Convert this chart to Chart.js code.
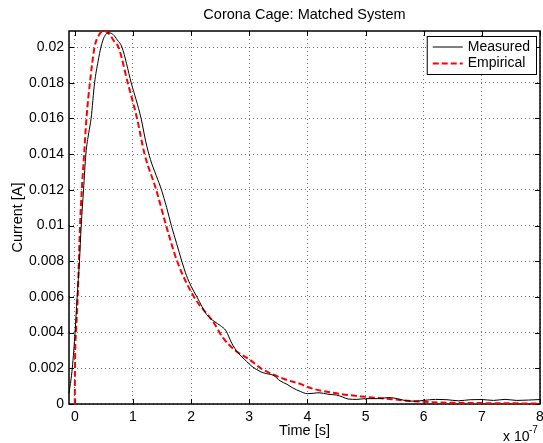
<!DOCTYPE html>
<html>
<head>
<meta charset="utf-8">
<title>Corona Cage: Matched System</title>
<script src="https://cdn.jsdelivr.net/npm/chart.js@4"></script>
<style>
  html, body { margin: 0; padding: 0; background: #fff; }
</style>
</head>
<body>
<canvas id="myChart" width="543" height="443"></canvas>
<script>
// tiempo en unidades de 1e-7 s
let tiempoMedido = [-0.1, -0.05, 0, 0.04, 0.08, 0.11, 0.15, 0.19, 0.24, 0.28, 0.34, 0.4, 0.45, 0.51, 0.59, 0.66, 0.73, 0.81,
    0.97, 1.14, 1.22, 1.3, 1.4, 1.49, 1.58, 1.66, 1.75, 1.84, 1.92, 2.0, 2.1, 2.27, 2.41, 2.5, 2.6, 2.7, 2.8, 2.95, 3.05, 3.2,
    3.3, 3.42, 3.53, 3.65, 3.75, 3.88, 4.0, 4.1, 4.2, 4.35, 4.5, 4.6, 4.7, 4.85, 5.0, 5.2, 5.4, 5.55, 5.7, 5.85, 6.0, 6.2,
    6.4, 6.6, 6.8, 7.0, 7.2, 7.4, 7.6, 7.8, 8.0];
let corrienteMedida = [0.0006, 0.0018, 0.0038, 0.006, 0.008, 0.010, 0.012, 0.014, 0.0152, 0.016, 0.018, 0.0192, 0.020, 0.0206,
    0.0208, 0.0207, 0.0204, 0.020, 0.018, 0.016, 0.0147, 0.0137, 0.0128, 0.012, 0.011, 0.010, 0.009, 0.008, 0.0072, 0.0066, 0.006,
    0.005, 0.0046, 0.0044, 0.0041, 0.0034, 0.0029, 0.0024, 0.0021, 0.0018, 0.0017, 0.0016, 0.0013, 0.0011, 0.0009, 0.0007,
    0.00058, 0.0006, 0.00063, 0.00055, 0.0005, 0.0004, 0.00028, 0.00026, 0.0003, 0.0003, 0.00036, 0.0003, 0.00018, 0.00016,
    0.0002, 0.00026, 0.00024, 0.00018, 0.00024, 0.00025, 0.0002, 0.00026, 0.0002, 0.00022, 0.00025];

let tiempoEmpirico = [0, 0.003, 0.02, 0.05, 0.07, 0.09, 0.12, 0.16, 0.2, 0.26, 0.34, 0.42, 0.51, 0.6, 0.68, 0.75, 0.91, 1.07,
    1.2, 1.4, 1.57, 1.76, 2.05, 2.38, 2.55, 2.76, 3.0, 3.2, 3.6, 3.9, 4.0, 4.5, 5.0, 5.5, 6.0, 7.0, 8.0];
let corrienteEmpirica = [0, 0.002, 0.004, 0.006, 0.008, 0.010, 0.012, 0.014, 0.016, 0.018, 0.020, 0.0207, 0.0209, 0.0207,
    0.0203, 0.020, 0.018, 0.016, 0.014, 0.012, 0.010, 0.008, 0.006, 0.0046, 0.0037, 0.003, 0.0025, 0.002, 0.0014, 0.0011,
    0.00095, 0.0006, 0.0004, 0.00025, 0.00012, 0.00005, 0.00003];

let xTicks = [0, 1, 2, 3, 4, 5, 6, 7, 8];
let yTicks = [0, 0.002, 0.004, 0.006, 0.008, 0.01, 0.012, 0.014, 0.016, 0.018, 0.02];

let titulo = 'Corona Cage: Matched System';
let fuente = '"Liberation Sans", Arial, sans-serif';
Chart.defaults.font.family = fuente;
Chart.defaults.font.size = 14;
Chart.defaults.color = '#000';

function puntos(xs, ys) {
    return xs.map((x, i) => ({ x: x, y: ys[i] }));
}

// caja de ejes, marcas hacia dentro, titulo, leyenda y exponente estilo MATLAB
const marco = {
    id: 'marco',
    beforeDatasetsDraw(chart) {
        let ctx = chart.ctx;
        let a = chart.chartArea;
        let sx = chart.scales.x;
        let sy = chart.scales.y;
        ctx.save();
        ctx.strokeStyle = '#000';
        ctx.lineWidth = 1;
        ctx.beginPath();
        sx.ticks.forEach(t => {
            let px = Math.round(sx.getPixelForValue(t.value)) + 0.5;
            ctx.moveTo(px, a.bottom); ctx.lineTo(px, a.bottom - 5);
            ctx.moveTo(px, a.top); ctx.lineTo(px, a.top + 5);
        });
        sy.ticks.forEach(t => {
            let py = Math.round(sy.getPixelForValue(t.value)) + 0.5;
            ctx.moveTo(a.left, py); ctx.lineTo(a.left + 5, py);
            ctx.moveTo(a.right, py); ctx.lineTo(a.right - 5, py);
        });
        ctx.stroke();
        ctx.lineWidth = 1.5;
        ctx.strokeRect(a.left, a.top, a.right - a.left, a.bottom - a.top);
        ctx.restore();
    },
    afterDraw(chart) {
        let ctx = chart.ctx;
        let a = chart.chartArea;
        ctx.save();
        ctx.fillStyle = '#000';
        ctx.textAlign = 'center';
        ctx.textBaseline = 'middle';
        ctx.font = '14.5px ' + fuente;
        ctx.fillText(titulo, (a.left + a.right) / 2, 14.5);

        ctx.font = '14px ' + fuente;
        let sets = chart.data.datasets;
        let ancho = Math.max(...sets.map(d => ctx.measureText(d.label).width));
        let w = 41 + ancho + 6;
        let h = 38;
        let x0 = a.right - 4 - w;
        let y0 = a.top + 5;
        ctx.fillStyle = '#fff';
        ctx.fillRect(x0, y0, w, h);
        ctx.strokeStyle = '#000';
        ctx.lineWidth = 1;
        ctx.strokeRect(x0 + 0.5, y0 + 0.5, w, h);
        sets.forEach((d, i) => {
            let y = y0 + 11 + i * 16.6;
            ctx.strokeStyle = d.borderColor;
            ctx.lineWidth = d.borderWidth;
            ctx.setLineDash(d.borderDash || []);
            ctx.beginPath();
            ctx.moveTo(x0 + 6, y);
            ctx.lineTo(x0 + 36, y);
            ctx.stroke();
            ctx.setLineDash([]);
            ctx.fillStyle = '#000';
            ctx.textBaseline = 'middle';
            ctx.textAlign = 'left';
            ctx.fillText(d.label, x0 + 41, y);
        });
        // factor de escala del eje x
        ctx.textBaseline = 'alphabetic';
        ctx.textAlign = 'left';
        ctx.font = '14px ' + fuente;
        ctx.fillText('x 10', a.right - 37, 441);
        ctx.font = '10px ' + fuente;
        ctx.fillText('-7', a.right - 11, 433);
        ctx.restore();
    }
};

function graficar() {
    let ctx = document.getElementById('myChart');
    const data = {
        datasets: [{
            label: 'Measured',
            data: puntos(tiempoMedido, corrienteMedida),
            borderColor: '#000',
            borderWidth: 1,
            pointRadius: 0,
            cubicInterpolationMode: 'monotone',
            clip: 3
        }, {
            label: 'Empirical',
            data: puntos(tiempoEmpirico, corrienteEmpirica),
            borderColor: '#ff0000',
            borderWidth: 2,
            borderDash: [6, 3],
            pointRadius: 0,
            cubicInterpolationMode: 'monotone',
            clip: 3
        }]
    };
    const config = {
        type: 'line',
        data: data,
        plugins: [marco],
        options: {
            responsive: false,
            devicePixelRatio: 1,
            animation: false,
            layout: { padding: { left: 0, right: 3, top: 31, bottom: 0 } },
            plugins: {
                legend: { display: false },
                tooltip: { enabled: false },
                title: { display: false }
            },
            scales: {
                x: {
                    type: 'linear',
                    min: -0.1,
                    max: 8,
                    afterBuildTicks: (s) => { s.ticks = xTicks.map(v => ({ value: v })); },
                    afterFit: (s) => { s.height = 39; s.paddingLeft = 0; s.paddingRight = 0; },
                    ticks: { padding: 5, maxRotation: 0, callback: (v) => String(v) },
                    grid: { color: 'rgba(0,0,0,0.55)', drawTicks: false },
                    border: { display: false, dash: [1, 3] },
                    title: { display: true, text: 'Time [s]', font: { size: 14.5 }, padding: { top: 0, bottom: 3 } }
                },
                y: {
                    type: 'linear',
                    min: 0,
                    max: 0.0209,
                    afterBuildTicks: (s) => { s.ticks = yTicks.map(v => ({ value: v })); },
                    afterFit: (s) => { s.width = 69; s.paddingTop = 0; s.paddingBottom = 0; },
                    ticks: { padding: 5, callback: (v) => String(Math.round(v * 1000) / 1000) },
                    grid: { color: 'rgba(0,0,0,0.55)', drawTicks: false },
                    border: { display: false, dash: [1, 3] },
                    title: { display: true, text: 'Current [A]', font: { size: 14.5 }, padding: { top: 9, bottom: 0 } }
                }
            }
        }
    };
    new Chart(ctx, config);
}

graficar();
</script>
</body>
</html>
